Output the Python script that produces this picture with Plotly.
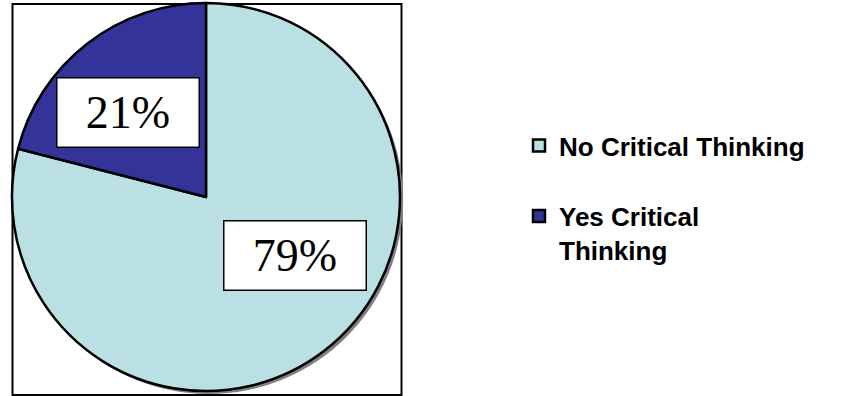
import math
import plotly.graph_objects as go

# ---- data ----
categories = ["No Critical Thinking", "Yes Critical Thinking"]
legend_labels = ["No Critical Thinking<br> ", "Yes Critical<br>Thinking"]
values = [79, 21]
pct_labels = ["79%", "21%"]
colors = ["#BBE0E3", "#333399"]

W, H = 847, 396
# pie geometry (pixels)
cx, cy, R = 206, 197, 194
shadow_off = 3

def dom(cx_, cy_, r_):
    return dict(x=[(cx_ - r_) / W, (cx_ + r_) / W],
                y=[(H - cy_ - r_) / H, (H - cy_ + r_) / H])

fig = go.Figure()

# shadow
fig.add_trace(go.Pie(
    values=[sum(values)], labels=["shadow"], marker=dict(colors=["#808080"]),
    domain=dom(cx + shadow_off, cy + shadow_off, R), textinfo="none",
    showlegend=False, hoverinfo="skip", sort=False,
))

fig.add_trace(go.Pie(
    labels=legend_labels, values=values, sort=False, direction="clockwise",
    rotation=0, marker=dict(colors=colors, line=dict(color="black", width=2.5)),
    domain=dom(cx, cy, R), textinfo="none", hoverinfo="label+percent",
))

# label boxes positioned from slice angles
total = sum(values)
start = 90.0
nudges = [18.7, 4.9]
rfracs = [0.55, 0.596]
annotations = []
for v, lab, nd, rf in zip(values, pct_labels, nudges, rfracs):
    span = 360.0 * v / total
    mid = start - span / 2.0
    start -= span
    a = math.radians(mid + nd)
    px = cx + rf * R * math.cos(a)
    py = cy - rf * R * math.sin(a)
    annotations.append(dict(
        x=px / W, y=(H - py) / H, xref="paper", yref="paper",
        xanchor="center", yanchor="middle",
        text=lab, showarrow=False, width=141, height=68,
        bgcolor="white", bordercolor="black", borderwidth=1.5, borderpad=0,
        font=dict(family="Liberation Serif, Times New Roman, serif", size=46, color="black"),
    ))

fig.update_layout(
    width=W, height=H,
    margin=dict(l=0, r=0, t=0, b=0),
    paper_bgcolor="white", plot_bgcolor="white",
    annotations=annotations,
    shapes=[dict(type="rect", xref="paper", yref="paper",
                 x0=12.5 / W, x1=401.5 / W, y0=(H - 395) / H, y1=(H - 4) / H,
                 line=dict(color="black", width=2), fillcolor="rgba(0,0,0,0)", layer="below")],
    legend=dict(
        x=519 / W, y=(H - 122) / H, xanchor="left", yanchor="top",
        valign="top", traceorder="normal",
        font=dict(family="Liberation Sans, Arial, sans-serif", size=26, color="black", weight="bold"),
        bgcolor="rgba(0,0,0,0)",
    ),
)

fig.write_html(
    "out.html",
    config={"displayModeBar": False},
    post_script="document.body.style.margin='0';document.body.style.overflow='hidden';",
)
